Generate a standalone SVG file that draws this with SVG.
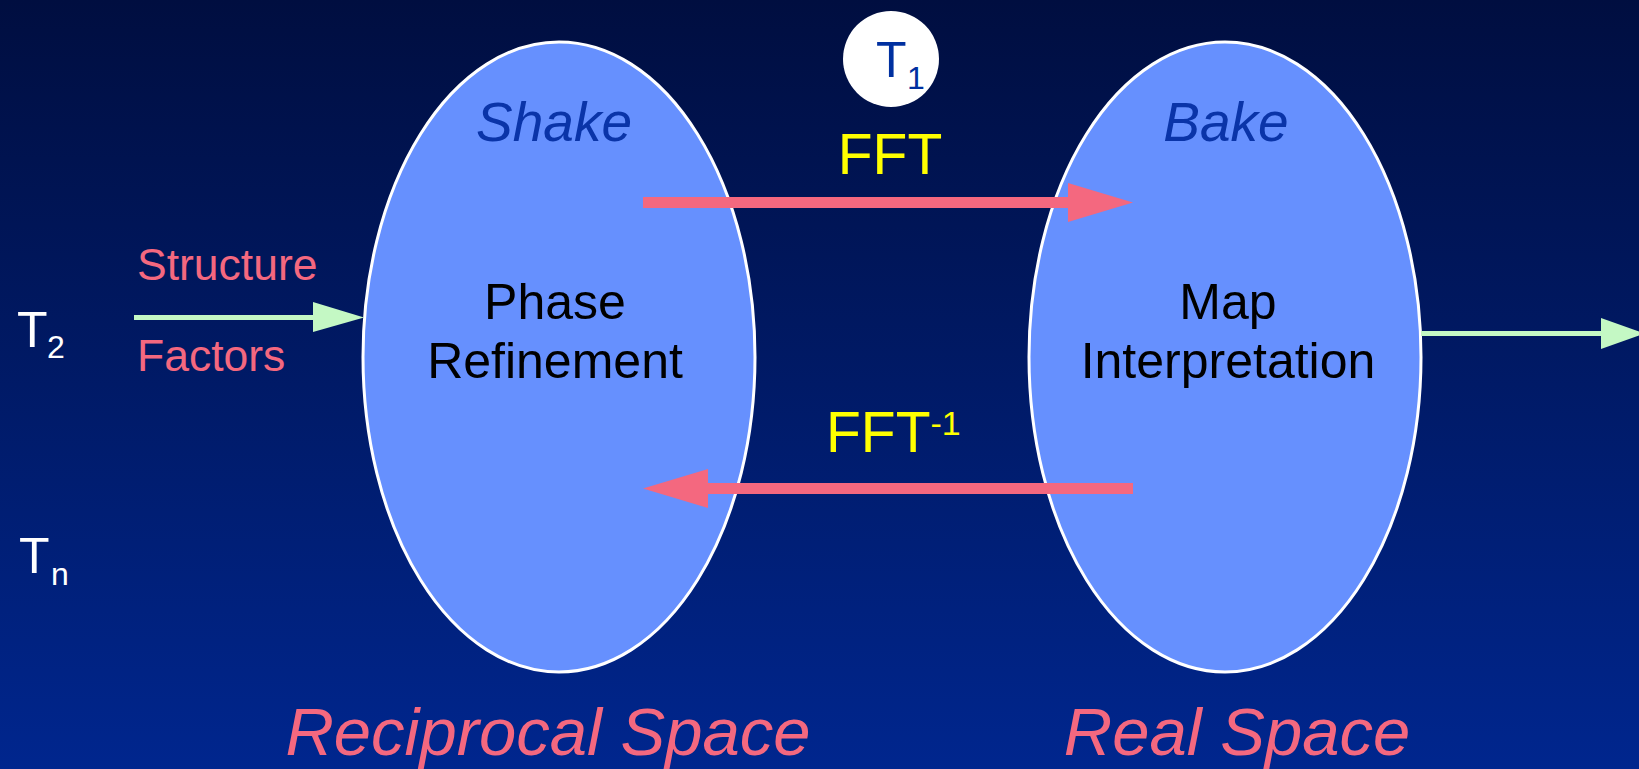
<svg xmlns="http://www.w3.org/2000/svg" width="1639" height="769" viewBox="0 0 1639 769">
<defs>
<linearGradient id="bg" x1="0" y1="0" x2="0" y2="1">
<stop offset="0" stop-color="#000e40"/>
<stop offset="1" stop-color="#00268e"/>
</linearGradient>
<style>
text{font-family:"Liberation Sans",Arial,sans-serif}
.ell{fill:#6690fe;stroke:#ffffff;stroke-width:3}
.pink{fill:#f4687f}
.green{fill:#c4f8c4}
.lbl{font-size:50px;fill:#000000;text-anchor:middle}
.prog{font-size:55px;font-style:italic;fill:#0a34a8;text-anchor:middle}
.space{font-size:67px;font-style:italic;fill:#f4687f;text-anchor:middle}
.fft{font-size:57px;fill:#ffff00}
.t{fill:#ffffff}
.sf{font-size:44.5px;fill:#f4687f}
</style>
</defs>
<rect width="1639" height="769" fill="url(#bg)"/>
<g id="shake">
<ellipse class="ell" cx="559" cy="357" rx="196" ry="315"/>
<text class="prog" x="554" y="141">Shake</text>
<text class="lbl" x="555" y="319">Phase</text>
<text class="lbl" x="555" y="378">Refinement</text>
</g>
<g id="bake">
<ellipse class="ell" cx="1225" cy="357" rx="196" ry="315"/>
<text class="prog" x="1226" y="141">Bake</text>
<text class="lbl" x="1228" y="319">Map</text>
<text class="lbl" x="1228" y="378">Interpretation</text>
</g>
<g id="t1">
<circle cx="891" cy="59" r="48" fill="#ffffff"/>
<text x="876" y="77" font-size="50" fill="#0030a0">T</text>
<text x="907" y="89" font-size="32" fill="#0030a0">1</text>
</g>
<g id="t2">
<text class="t" x="17" y="347" font-size="50">T</text>
<text class="t" x="47" y="358" font-size="32">2</text>
</g>
<g id="tn">
<text class="t" x="19" y="573" font-size="50">T</text>
<text class="t" x="51" y="585" font-size="32">n</text>
</g>
<g id="connectors">
<rect class="green" x="134" y="315" width="182" height="5"/>
<polygon class="green" points="313,302 364,317.5 313,332"/>
<rect class="green" x="1421" y="331" width="182" height="5"/>
<polygon class="green" points="1601,318 1645,333.5 1601,349"/>
<rect class="pink" x="643" y="197" width="428" height="11"/>
<polygon class="pink" points="1068,183 1133,202.5 1068,222"/>
<rect class="pink" x="705" y="483" width="428" height="11"/>
<polygon class="pink" points="708,469 643,488.5 708,508"/>
</g>
<g id="labels">
<text class="sf" x="137" y="280">Structure</text>
<text class="sf" x="137" y="371">Factors</text>
<text class="fft" x="890" y="174" text-anchor="middle">FFT</text>
<text class="fft" x="826" y="452">FFT<tspan font-size="34" dy="-17">-1</tspan></text>
<text class="space" x="548" y="755">Reciprocal Space</text>
<text class="space" x="1237" y="755">Real Space</text>
</g>
</svg>
